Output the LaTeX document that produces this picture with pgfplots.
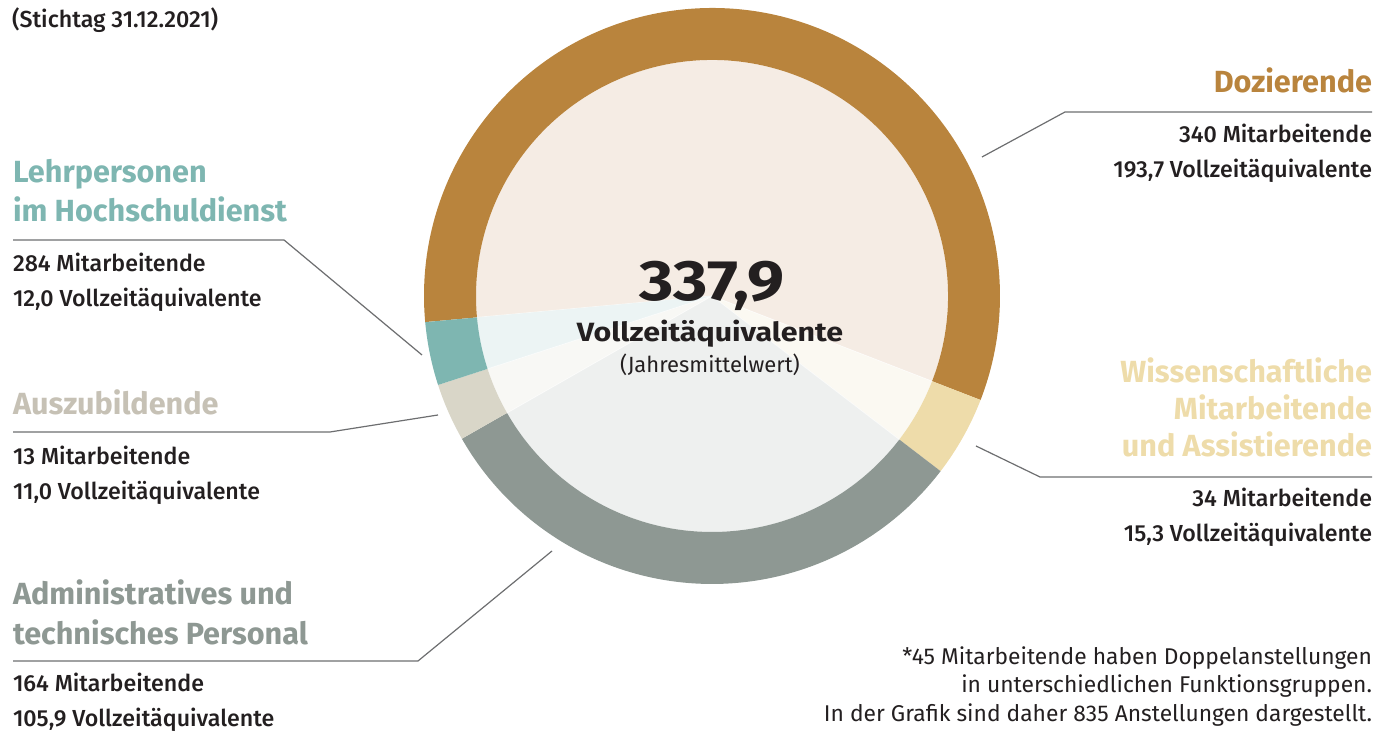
\documentclass[border=0pt]{standalone}
\usepackage{pgfplots}
\pgfplotsset{compat=1.18}
\usepackage{pgfplotstable}
\usepackage{fontspec}
\setmainfont{Fira Sans}
\newfontfamily\medfont{Fira Sans Medium}
\definecolor{doz}{HTML}{B9843D}
\definecolor{dozL}{HTML}{F5ECE4}
\definecolor{wiss}{HTML}{EEDCAA}
\definecolor{wissL}{HTML}{FBF9F2}
\definecolor{adm}{HTML}{8E9893}
\definecolor{admL}{HTML}{EEF0EF}
\definecolor{azu}{HTML}{D9D6C8}
\definecolor{azuL}{HTML}{F8F8F5}
\definecolor{azuT}{HTML}{C6C1B5}
\definecolor{lehr}{HTML}{7EB6B1}
\definecolor{lehrL}{HTML}{ECF4F4}
\definecolor{txt}{HTML}{231F20}
\definecolor{ln}{HTML}{6D6E70}

\pgfplotstableread{
label value
Dozierende 193.7
Wiss 15.3
Admin 105.9
Azubi 11.0
Lehr 12.0
}\pietable

\pgfplotstablegetelem{0}{value}\of\pietable \pgfmathsetmacro\vA{\pgfplotsretval}
\pgfplotstablegetelem{1}{value}\of\pietable \pgfmathsetmacro\vB{\pgfplotsretval}
\pgfplotstablegetelem{2}{value}\of\pietable \pgfmathsetmacro\vC{\pgfplotsretval}
\pgfplotstablegetelem{3}{value}\of\pietable \pgfmathsetmacro\vD{\pgfplotsretval}
\pgfplotstablegetelem{4}{value}\of\pietable \pgfmathsetmacro\vE{\pgfplotsretval}
\pgfmathsetmacro\total{\vA+\vB+\vC+\vD+\vE}
\pgfmathsetmacro\aA{185.2}
\pgfmathsetmacro\aB{\aA-360*(\vA/\total)}
\pgfmathsetmacro\aC{\aB-360*(\vB/\total)}
\pgfmathsetmacro\aD{\aC-360*(\vC/\total)}
\pgfmathsetmacro\aE{\aD-360*(\vD/\total)}
\pgfmathsetmacro\aF{\aE-360*(\vE/\total)}

% #1 start angle, #2 end angle, #3 ring colour, #4 inner colour
\newcommand\seg[4]{%
  \fill[#4] (axis cs:712,446) -- ++(#1:118pt) arc[start angle=#1,end angle=#2,radius=118pt] -- cycle;
  \fill[#3] (axis cs:712,446) ++(#1:144pt) arc[start angle=#1,end angle=#2,radius=144pt]
     -- ++({#2+180}:26pt) arc[start angle=#2,end angle=#1,radius=118pt] -- cycle;
  \draw[white,opacity=0.6,line width=0.4pt] (axis cs:712,446) -- ++(#1:118pt);
}

\newcommand\ttl{\fontsize{15.3}{17}\selectfont\bfseries}
\newcommand\bdy{\fontsize{11.6}{13}\selectfont\medfont}
\newcommand\fnt{\fontsize{11.4}{13}\selectfont}
\tikzset{lbl/.style={inner sep=0pt,outer sep=0pt}}

\begin{document}
\begin{tikzpicture}
\begin{axis}[x=0.5pt,y=0.5pt,xmin=0,xmax=1378,ymin=0,ymax=742,hide axis,clip=false]
\seg{\aA}{\aB}{doz}{dozL}
\seg{\aB}{\aC}{wiss}{wissL}
\seg{\aC}{\aD}{adm}{admL}
\seg{\aD}{\aE}{azu}{azuL}
\seg{\aE}{\aF}{lehr}{lehrL}

% leader lines
\draw[ln,line width=0.6pt] (axis cs:982,585) -- (axis cs:1065,630) -- (axis cs:1372,630);
\draw[ln,line width=0.6pt] (axis cs:13,502) -- (axis cs:284,502) -- (axis cs:422,387);
\draw[ln,line width=0.6pt] (axis cs:13,310) -- (axis cs:330,310) -- (axis cs:438,327);
\draw[ln,line width=0.6pt] (axis cs:976,296) -- (axis cs:1040,265) -- (axis cs:1372,265);
\draw[ln,line width=0.6pt] (axis cs:13,81) -- (axis cs:418,81) -- (axis cs:552,191);

% header
\node[lbl,anchor=base west,text=txt,font=\bdy] at (axis cs:12,714) {(Stichtag 31.12.2021)};

% Dozierende
\node[lbl,anchor=base east,text=doz,font=\ttl] at (axis cs:1372,649) {Dozierende};
\node[lbl,anchor=base east,text=txt,font=\bdy] at (axis cs:1372,599) {340 Mitarbeitende};
\node[lbl,anchor=base east,text=txt,font=\bdy] at (axis cs:1372,564) {193,7 Vollzeitäquivalente};

% Lehrpersonen
\node[lbl,anchor=base west,text=lehr,font=\ttl] at (axis cs:13,559) {Lehrpersonen};
\node[lbl,anchor=base west,text=lehr,font=\ttl] at (axis cs:13,520) {im Hochschuldienst};
\node[lbl,anchor=base west,text=txt,font=\bdy] at (axis cs:13,470) {284 Mitarbeitende};
\node[lbl,anchor=base west,text=txt,font=\bdy] at (axis cs:13,435) {12,0 Vollzeitäquivalente};

% Auszubildende
\node[lbl,anchor=base west,text=azuT,font=\ttl] at (axis cs:13,327) {Auszubildende};
\node[lbl,anchor=base west,text=txt,font=\bdy] at (axis cs:13,277) {13 Mitarbeitende};
\node[lbl,anchor=base west,text=txt,font=\bdy] at (axis cs:13,242) {11,0 Vollzeitäquivalente};

% Wissenschaftliche
\node[lbl,anchor=base east,text=wiss,font=\ttl] at (axis cs:1372,359) {Wissenschaftliche};
\node[lbl,anchor=base east,text=wiss,font=\ttl] at (axis cs:1372,322) {Mitarbeitende};
\node[lbl,anchor=base east,text=wiss,font=\ttl] at (axis cs:1372,285) {und Assistierende};
\node[lbl,anchor=base east,text=txt,font=\bdy] at (axis cs:1372,235) {34 Mitarbeitende};
\node[lbl,anchor=base east,text=txt,font=\bdy] at (axis cs:1372,200) {15,3 Vollzeitäquivalente};

% Administratives
\node[lbl,anchor=base west,text=adm,font=\ttl] at (axis cs:13,137) {Administratives und};
\node[lbl,anchor=base west,text=adm,font=\ttl] at (axis cs:13,97) {technisches Personal};
\node[lbl,anchor=base west,text=txt,font=\bdy] at (axis cs:13,50) {164 Mitarbeitende};
\node[lbl,anchor=base west,text=txt,font=\bdy] at (axis cs:13,15) {105,9 Vollzeitäquivalente};

% footnote
\node[lbl,anchor=base east,text=txt,font=\fnt] at (axis cs:1372,77) {*45 Mitarbeitende haben Doppelanstellungen};
\node[lbl,anchor=base east,text=txt,font=\fnt] at (axis cs:1372,49) {in unterschiedlichen Funktionsgruppen.};
\node[lbl,anchor=base east,text=txt,font=\fnt] at (axis cs:1372,20) {In der Grafik sind daher 835 Anstellungen dargestellt.};

% centre
\node[lbl,anchor=base,text=txt,font=\fontsize{28.5}{30}\selectfont\bfseries] at (axis cs:712,441) {\scalebox{1.16}[1]{337,9}};
\node[lbl,anchor=base,text=txt,font=\fontsize{13.2}{15}\selectfont\bfseries] at (axis cs:710,400) {\scalebox{1.15}[1]{Vollzeitäquivalente}};
\node[lbl,anchor=base,text=txt,font=\fontsize{11}{13}\selectfont] at (axis cs:710,369) {(Jahresmittelwert)};
\end{axis}
\pgfresetboundingbox
\path[use as bounding box] (current axis.south west) rectangle (current axis.north east);
\end{tikzpicture}
\end{document}
